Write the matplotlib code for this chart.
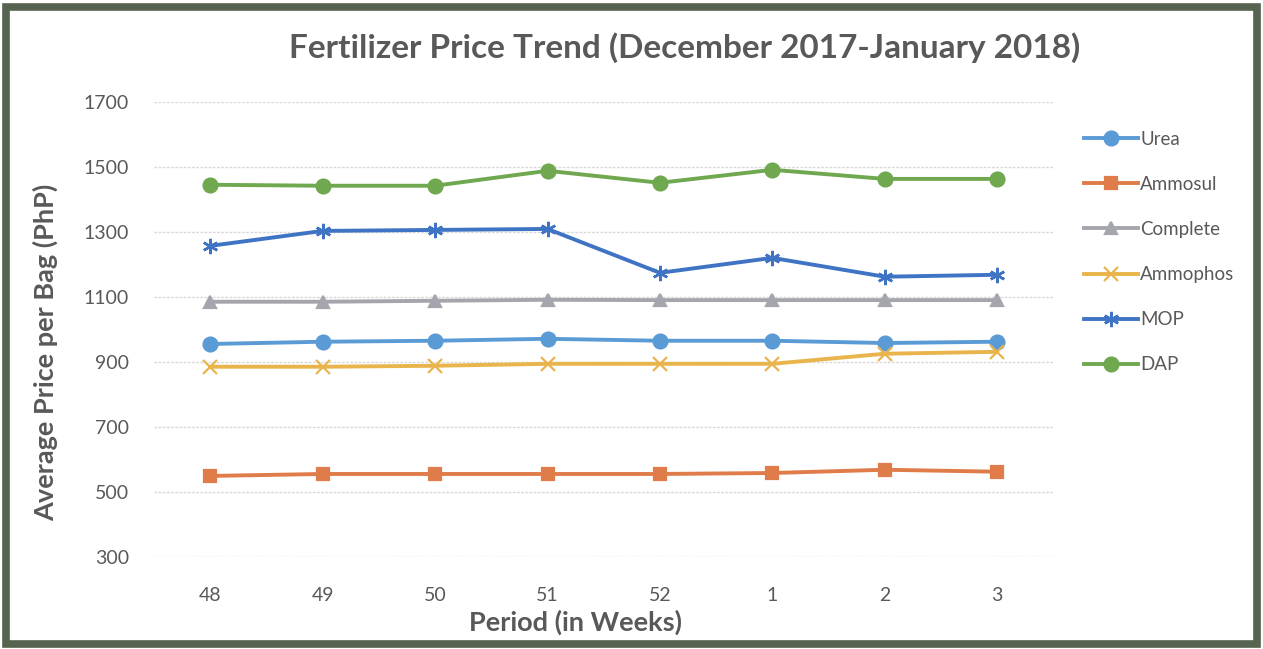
import matplotlib.pyplot as plt
from matplotlib.patches import Rectangle

plt.rcParams['font.family'] = ['Lato', 'DejaVu Sans']

# weeks (Dec 2017 - Jan 2018)
weeks = ['48', '49', '50', '51', '52', '1', '2', '3']

urea = [955, 962, 965, 971, 965, 965, 958, 962]
ammosul = [549, 555, 555, 555, 555, 558, 568, 562]
complete = [1085, 1085, 1088, 1091, 1090, 1090, 1090, 1090]
ammophos = [885, 885, 888, 894, 894, 894, 925, 931]
mop = [1257, 1303, 1306, 1309, 1174, 1220, 1162, 1168]
dap = [1445, 1442, 1442, 1488, 1451, 1491, 1463, 1463]

series = [
    ('Urea', urea, '#5B9BD5', 'o', 10),
    ('Ammosul', ammosul, '#E07B4A', 's', 9),
    ('Complete', complete, '#A5A5AD', '^', 9),
    ('Ammophos', ammophos, '#E9B44C', 'x', 10),
    ('MOP', mop, '#3F73C4', 'x', 11),
    ('DAP', dap, '#6FA84F', 'o', 10),
]

fig = plt.figure(figsize=(12.63, 6.49), dpi=100)
ax = fig.add_axes([0.122, 0.142, 0.712, 0.701])

x = list(range(len(weeks)))
for name, vals, col, mk, ms in series:
    if name == 'MOP':
        # asterisk-like marker
        ax.plot(x, vals, color=col, lw=2.8, marker=(6, 2, 0), ms=ms,
                mew=1.8, label=name)
    else:
        ax.plot(x, vals, color=col, lw=2.8, marker=mk, ms=ms,
                mew=1.6, label=name)

ax.set_xlim(-0.5, len(weeks) - 0.5)
ax.set_ylim(300, 1700)
ax.set_yticks(range(300, 1701, 200))
ax.set_xticks(x)
ax.set_xticklabels(weeks)
ax.grid(axis='y', color='#d9d9d9', lw=1, ls=(0, (2, 1)))
ax.set_axisbelow(True)
for s in ax.spines.values():
    s.set_visible(False)
ax.tick_params(length=0, labelsize=14, labelcolor='#595959')
ax.tick_params(axis='x', pad=22)
ax.tick_params(axis='y', pad=18)

ax.set_xlabel('Period (in Weeks)', fontsize=19.5, fontweight='bold',
              color='#595959', va='center')
ax.xaxis.set_label_coords(0.469, -0.145)
ax.set_ylabel('Average Price per Bag (PhP)', fontsize=19.5, fontweight='bold',
              color='#595959', va='center', ha='center')
ax.yaxis.set_label_coords(-0.121, 0.45)
fig.text(0.542, 0.927, 'Fertilizer Price Trend (December 2017-January 2018)',
         ha='center', va='center', fontsize=24, fontweight='bold',
         color='#595959')

leg = ax.legend(loc='upper left', bbox_to_anchor=(1.0255, 0.953), frameon=False,
                fontsize=13.5, labelspacing=1.5, handlelength=2.9,
                handletextpad=0.1, borderaxespad=0)
for t in leg.get_texts():
    t.set_color('#595959')

# dark frame around the chart
fig.patches.append(Rectangle((0.005, 0.007), 0.99, 0.982, transform=fig.transFigure,
                             fill=False, ec='#56634f', lw=5.5))

fig.savefig('out.png', dpi=100)
